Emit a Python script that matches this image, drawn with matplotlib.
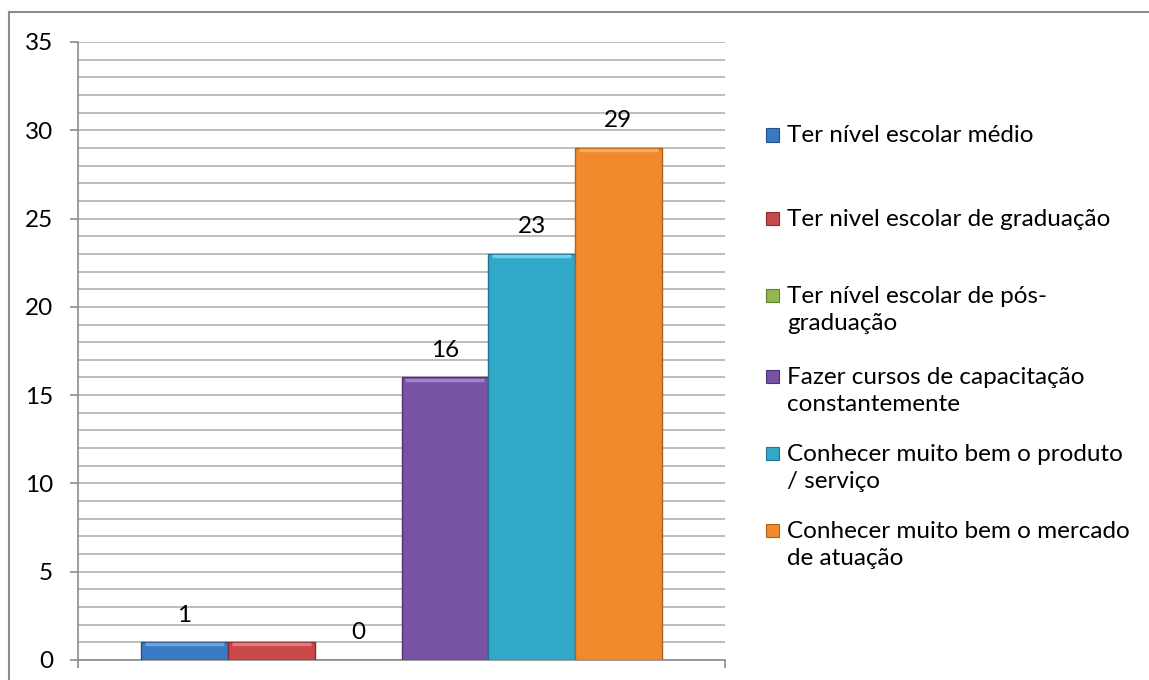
import numpy as np
import matplotlib
matplotlib.use('Agg')
import matplotlib.pyplot as plt
from matplotlib.patches import Rectangle

# data
series = ['Ter nível escolar médio',
          'Ter nivel escolar de graduação',
          'Ter nível escolar de pós-\ngraduação',
          'Fazer cursos de capacitação\nconstantemente',
          'Conhecer muito bem o produto\n/ serviço',
          'Conhecer muito bem o mercado\nde atuação']
values = [1, 1, 0, 16, 23, 29]
labels = ['1', '', '0', '16', '23', '29']
colors = ['#3b79c4', '#c94848', '#92b94f', '#7852a3', '#31a8c8', '#f08a2c']
lights = ['#6ea3e0', '#e87c7c', '#b9d77c', '#a283c8', '#6fd0ea', '#f9ab5e']
edges = ['#24508a', '#8a2c2c', '#5f7f30', '#4f3470', '#1f7590', '#b0601a']

plt.rcParams['font.family'] = ['Lato', 'DejaVu Sans']
fs = 17.5

fig = plt.figure(figsize=(11.49, 6.8), dpi=100)
ax = fig.add_axes([78/1149, 20/680, (725-78)/1149, (660-42)/680])

n = len(values)
w = (519/645) / n
x = (np.arange(n) - (n - 1) / 2) * w
bars = ax.bar(x, values, width=w, color=colors, edgecolor=edges, linewidth=1.0, zorder=3)
# light top edge for the bevel look
for xi, v, lc in zip(x, values, lights):
    if v > 0:
        ax.plot([xi - w/2 + 0.006, xi + w/2 - 0.006], [v - 0.12, v - 0.12],
                color=lc, linewidth=2.5, zorder=4, solid_capstyle='butt')

for xi, v, lab in zip(x, values, labels):
    if lab:
        ax.annotate(lab, (xi, v), xytext=(0, 19.5), textcoords='offset points',
                    ha='center', va='center', fontsize=fs)

ax.set_xlim(-0.5, 0.5)
ax.set_ylim(0, 35)
ax.set_yticks(np.arange(0, 36, 5))
ax.set_yticks(np.arange(0, 36, 1), minor=True)
ax.grid(True, which='both', axis='y', color='#b8b8b8', linewidth=1.3, zorder=0)
ax.set_axisbelow(True)
ax.set_xticks([-0.5, 0.5])
ax.set_xticklabels(['', ''])
ax.tick_params(axis='y', which='major', length=6, width=1.2, color='#8c8c8c',
               labelsize=fs, pad=12)
ax.tick_params(axis='y', which='minor', length=0)
ax.tick_params(axis='x', length=6, width=1.2, color='#8c8c8c')
for s in ['top', 'right']:
    ax.spines[s].set_visible(False)
for s in ['left', 'bottom']:
    ax.spines[s].set_color('#8c8c8c')
    ax.spines[s].set_linewidth(1.2)

# legend drawn by hand to follow the uneven spacing
leg_y = [135, 219, 310, 391, 468, 545]
for lab, c, e, y in zip(series, colors, edges, leg_y):
    nlines = lab.count('\n') + 1
    top = y - (nlines - 1) * 14.5
    fig.patches.append(Rectangle((766/1149, 1 - (top + 6.5)/680), 13/1149, 13/680,
                                 transform=fig.transFigure, facecolor=c,
                                 edgecolor=e, linewidth=0.8))
    fig.text(787/1149, 1 - y/680, lab, ha='left', va='center', fontsize=fs,
             linespacing=1.38)

# outer chart border
fig.add_artist(plt.Line2D([9/1149, 9/1149], [0, 1 - 12/680], color='#8c8c8c',
                          linewidth=1.5, transform=fig.transFigure))
fig.add_artist(plt.Line2D([9/1149, 1], [1 - 12/680, 1 - 12/680], color='#8c8c8c',
                          linewidth=1.5, transform=fig.transFigure))

fig.savefig('out.png', dpi=100)
